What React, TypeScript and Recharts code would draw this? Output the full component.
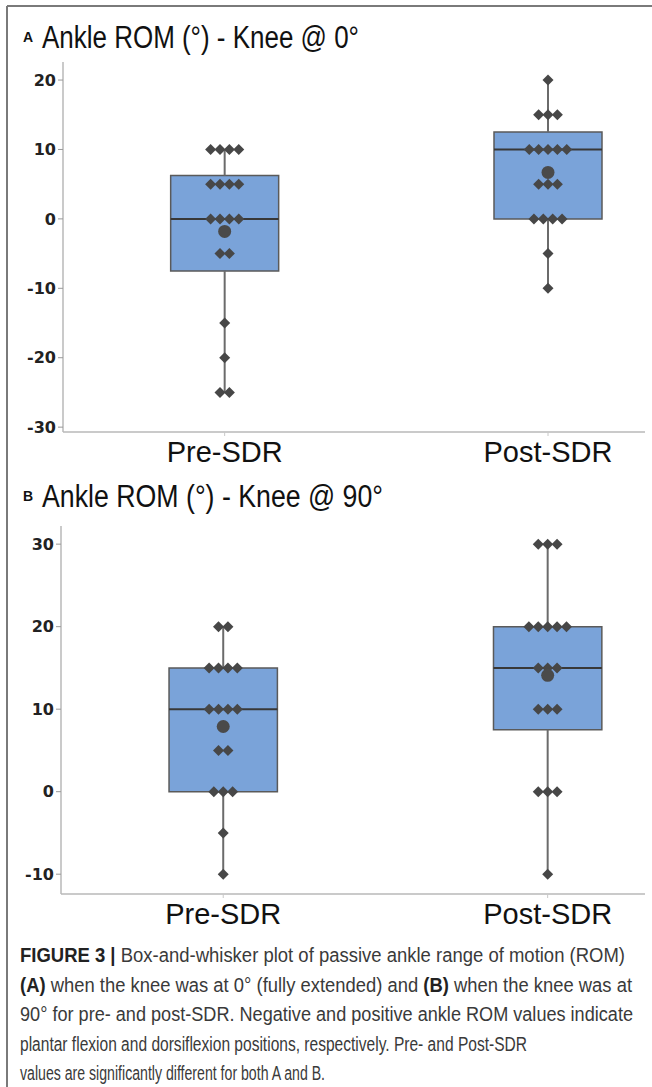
import React from 'react';
import { ScatterChart, Scatter, XAxis, YAxis, ReferenceArea, ReferenceLine } from 'recharts';

const categories = ['Pre-SDR', 'Post-SDR'];

// A: ankle ROM with knee at 0°
const knee0Pre = [10, 10, 10, 10, 5, 5, 5, 5, 0, 0, 0, 0, -5, -5, -15, -20, -25, -25];
const knee0Post = [20, 15, 15, 15, 10, 10, 10, 10, 10, 5, 5, 5, 0, 0, 0, 0, -5, -10];
const knee0Low = [-25, -10];
const knee0Q1 = [-7.5, 0];
const knee0Median = [0, 10];
const knee0Q3 = [6.25, 12.5];
const knee0High = [10, 20];
const knee0Mean = [-1.8, 6.7];
const knee0Ticks = [-30, -20, -10, 0, 10, 20];

// B: ankle ROM with knee at 90°
const knee90Pre = [20, 20, 15, 15, 15, 15, 10, 10, 10, 10, 5, 5, 0, 0, 0, -5, -10];
const knee90Post = [30, 30, 30, 20, 20, 20, 20, 20, 15, 15, 15, 10, 10, 10, 0, 0, 0, -10];
const knee90Low = [-10, -10];
const knee90Q1 = [0, 7.5];
const knee90Median = [10, 15];
const knee90Q3 = [15, 20];
const knee90High = [20, 30];
const knee90Mean = [7.9, 14.1];
const knee90Ticks = [-10, 0, 10, 20, 30];

const SWARM_STEP = 0.029;
const BOX_HALF = 0.167;
const X_DOMAIN: [number, number] = [-0.5, 1.3];

// spread equal values side by side, like the original dot swarm
function swarm(values: number[], cat: number) {
  const counts = new Map<number, number>();
  values.forEach((v) => counts.set(v, (counts.get(v) || 0) + 1));
  const seen = new Map<number, number>();
  return values.map((v) => {
    const n = counts.get(v) as number;
    const i = seen.get(v) || 0;
    seen.set(v, i + 1);
    return { x: cat + (i - (n - 1) / 2) * SWARM_STEP, y: v };
  });
}

const Diamond = (props: any) => {
  const { cx, cy } = props;
  const r = 5.5;
  return (
    <path
      d={`M${cx},${cy - r}L${cx + r},${cy}L${cx},${cy + r}L${cx - r},${cy}Z`}
      fill="#474747"
    />
  );
};

const MeanDot = (props: any) => <circle cx={props.cx} cy={props.cy} r={6.5} fill="#4a4a4a" />;

interface PanelProps {
  plotTop: number;
  plotBottom: number;
  plotLeft: number;
  pre: number[];
  post: number[];
  low: number[];
  q1: number[];
  median: number[];
  q3: number[];
  high: number[];
  mean: number[];
  ticks: number[];
  domain: [number, number];
}

const Panel: React.FC<PanelProps> = (p) => {
  const top = p.plotTop - 10;
  const height = p.plotBottom - p.plotTop + 10 + 50;
  const points = [...swarm(p.pre, 0), ...swarm(p.post, 1)];
  const means = p.mean.map((m, i) => ({ x: i, y: m }));
  return (
    <div style={{ position: 'absolute', left: 0, top }}>
      <ScatterChart
        width={645}
        height={height}
        margin={{ top: 10, right: 0, bottom: 5, left: p.plotLeft - 55 }}
      >
        <XAxis
          type="number"
          dataKey="x"
          domain={X_DOMAIN}
          allowDataOverflow
          ticks={[0, 1]}
          tickFormatter={(i: number) => categories[i]}
          height={45}
          axisLine={{ stroke: '#b8b8b8', strokeWidth: 1.5 }}
          tickLine={{ stroke: '#c8c8c8' }}
          tickSize={4}
          tickMargin={5}
          tick={{ fontSize: 29, fill: '#111', fontFamily: 'Liberation Sans, Arial, sans-serif' }}
        />
        <YAxis
          type="number"
          dataKey="y"
          domain={p.domain}
          allowDataOverflow
          ticks={p.ticks}
          width={55}
          axisLine={{ stroke: '#b8b8b8', strokeWidth: 1.5 }}
          tickLine={{ stroke: '#999' }}
          tickSize={5}
          tick={{ fontSize: 16, fontWeight: 'bold', fill: '#222', fontFamily: 'DejaVu Sans, sans-serif' }}
        />
        {categories.map((_, i) => (
          <ReferenceLine
            key={`wl${i}`}
            segment={[{ x: i, y: p.low[i] }, { x: i, y: p.q1[i] }]}
            stroke="#6b6b6b"
            strokeWidth={2}
          />
        ))}
        {categories.map((_, i) => (
          <ReferenceLine
            key={`wh${i}`}
            segment={[{ x: i, y: p.q3[i] }, { x: i, y: p.high[i] }]}
            stroke="#6b6b6b"
            strokeWidth={2}
          />
        ))}
        {categories.map((_, i) => (
          <ReferenceArea
            key={`box${i}`}
            x1={i - BOX_HALF}
            x2={i + BOX_HALF}
            y1={p.q1[i]}
            y2={p.q3[i]}
            fill="#7aa3d9"
            fillOpacity={1}
            stroke="#5a5a5a"
            strokeWidth={1.5}
          />
        ))}
        {categories.map((_, i) => (
          <ReferenceLine
            key={`med${i}`}
            segment={[{ x: i - BOX_HALF, y: p.median[i] }, { x: i + BOX_HALF, y: p.median[i] }]}
            stroke="#383838"
            strokeWidth={2}
          />
        ))}
        <Scatter data={points} shape={Diamond} isAnimationActive={false} />
        <Scatter data={means} shape={MeanDot} isAnimationActive={false} />
      </ScatterChart>
    </div>
  );
};

export default function App() {
  const titleFont = 'Liberation Sans, Arial, sans-serif';
  return (
    <div style={{ position: 'absolute', left: 0, top: 0, width: 652, height: 1087, background: '#fff', overflow: 'hidden' }}>
      <svg width={652} height={1087} style={{ position: 'absolute', left: 0, top: 0 }}>
        <line x1={7} y1={6} x2={652} y2={6} stroke="#7a7a7a" strokeWidth={2} />
        <line x1={7} y1={6} x2={7} y2={1087} stroke="#7a7a7a" strokeWidth={2} />
        <text x={23} y={42} fontSize={14} fontWeight="bold" fontFamily={titleFont} fill="#111">A</text>
        <text x={42} y={48} fontSize={31} fontFamily={titleFont} fill="#111" textLength={317} lengthAdjust="spacingAndGlyphs">
          Ankle ROM (°) - Knee @ 0°
        </text>
        <text x={23} y={501} fontSize={14} fontWeight="bold" fontFamily={titleFont} fill="#111">B</text>
        <text x={42} y={507} fontSize={31} fontFamily={titleFont} fill="#111" textLength={341} lengthAdjust="spacingAndGlyphs">
          Ankle ROM (°) - Knee @ 90°
        </text>
        <g fontSize={20} fontFamily={titleFont} fill="#3a3a3a">
          <text x={20} y={962} textLength={605} lengthAdjust="spacingAndGlyphs">
            <tspan fontWeight="bold" fill="#222">FIGURE 3 |</tspan>
            {' Box-and-whisker plot of passive ankle range of motion (ROM)'}
          </text>
          <text x={20} y={991.5} textLength={612} lengthAdjust="spacingAndGlyphs">
            <tspan fontWeight="bold" fill="#222">(A)</tspan>
            {' when the knee was at 0° (fully extended) and '}
            <tspan fontWeight="bold" fill="#222">(B)</tspan>
            {' when the knee was at'}
          </text>
          <text x={20} y={1021} textLength={613} lengthAdjust="spacingAndGlyphs">
            90° for pre- and post-SDR. Negative and positive ankle ROM values indicate
          </text>
          <text x={20} y={1050.5} textLength={507} lengthAdjust="spacingAndGlyphs">
            plantar flexion and dorsiflexion positions, respectively. Pre- and Post-SDR
          </text>
          <text x={20} y={1080} textLength={305} lengthAdjust="spacingAndGlyphs">
            values are significantly different for both A and B.
          </text>
        </g>
      </svg>
      <Panel
        plotTop={62}
        plotBottom={432}
        plotLeft={63}
        pre={knee0Pre}
        post={knee0Post}
        low={knee0Low}
        q1={knee0Q1}
        median={knee0Median}
        q3={knee0Q3}
        high={knee0High}
        mean={knee0Mean}
        ticks={knee0Ticks}
        domain={[-30.7, 22.6]}
      />
      <Panel
        plotTop={526}
        plotBottom={894}
        plotLeft={61}
        pre={knee90Pre}
        post={knee90Post}
        low={knee90Low}
        q1={knee90Q1}
        median={knee90Median}
        q3={knee90Q3}
        high={knee90High}
        mean={knee90Mean}
        ticks={knee90Ticks}
        domain={[-12.4, 32.2]}
      />
    </div>
  );
}
